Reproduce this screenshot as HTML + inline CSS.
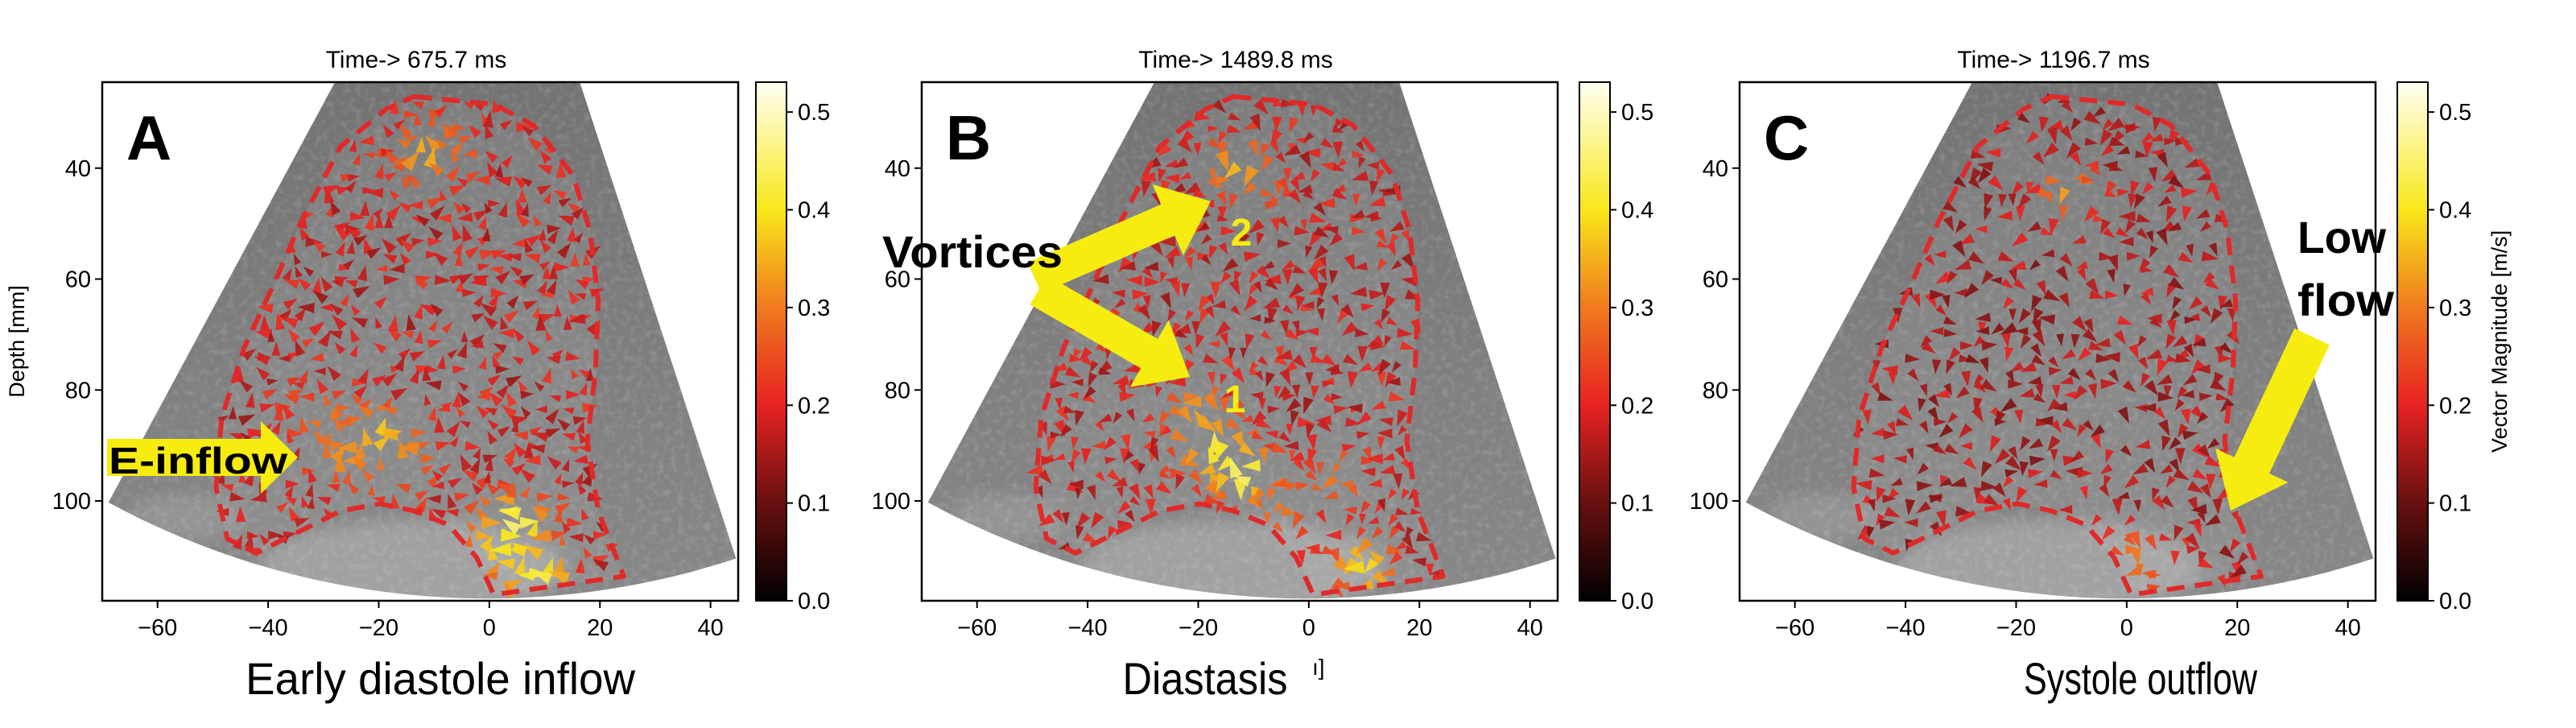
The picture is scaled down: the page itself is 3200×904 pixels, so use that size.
<!DOCTYPE html>
<html><head><meta charset="utf-8">
<style>
html,body{margin:0;padding:0;background:#fff;}
svg{display:block;}
text{font-family:"Liberation Sans",sans-serif;}
</style></head>
<body>
<svg id="fig" width="3200" height="904" viewBox="0 0 3200 904" xmlns="http://www.w3.org/2000/svg">
<defs>
<filter id="spk" x="0" y="0" width="100%" height="100%">
<feTurbulence type="fractalNoise" baseFrequency="0.12" numOctaves="2" seed="4"/>
<feColorMatrix type="matrix" values="0 0 0 0 1  0 0 0 0 1  0 0 0 0 1  1 0 0 0 -0.45"/>
</filter>
<filter id="blur8"><feGaussianBlur stdDeviation="10"/></filter>
<linearGradient id="cmap" x1="0" y1="1" x2="0" y2="0">
<stop offset="0" stop-color="#000000"/>
<stop offset="0.19" stop-color="#6a1010"/>
<stop offset="0.377" stop-color="#e82222"/>
<stop offset="0.566" stop-color="#f07a1e"/>
<stop offset="0.755" stop-color="#f8e81a"/>
<stop offset="1" stop-color="#fffff4"/>
</linearGradient>
<linearGradient id="fanGrad" x1="0" y1="0" x2="0" y2="1">
<stop offset="0" stop-color="#686868"/>
<stop offset="1" stop-color="#888888"/>
</linearGradient>
</defs>
</svg>
<script>
// ---- data arrays ----
const xTicks = [-60, -40, -20, 0, 20, 40];
const yTicks = [40, 60, 80, 100];
const cbTicks = [0.0, 0.1, 0.2, 0.3, 0.4, 0.5];
const cbTickLabels = ["0.0", "0.1", "0.2", "0.3", "0.4", "0.5"];
const panelTitles = ["Time-> 675.7 ms", "Time-> 1489.8 ms", "Time-> 1196.7 ms"];
const panelLetters = ["A", "B", "C"];
const panelCaptions = ["Early diastole inflow", "Diastasis", "Systole outflow"];
const baseMagnitude = [0.185, 0.18, 0.16];
// high-velocity regions: [x mm, depth mm, magnitude]
const clustersA = [[-12,38,0.36],[-7,36,0.28],[-20,88,0.38],[-26,92,0.33],[-15,92,0.32],[5,104,0.46],[2,108,0.4],[9,115,0.45],[-30,85,0.3]];
const clustersB = [[-13,40,0.36],[-8,44,0.26],[-18,90,0.42],[-12,95,0.46],[-20,84,0.34],[10,112,0.4],[-5,101,0.3],[5,96,0.3]];
const clustersC = [[-11,44,0.34],[2,110,0.3],[10,116,0.34]];
const clusters = [clustersA, clustersB, clustersC];
// LV contour in data coordinates [x, depth]
const contourX = [-13.6,0.9,8.0,15.1,18.2,19.7,19.2,17.7,19.7,24.3,0.8,-2.3,-7.4,-13.6,-19.7,-26.9,-42.2,-47.4,-49.4,-48.4,-44.3,-39.2,-34.0,-26.9,-18.7];
const contourY = [27.1,28.5,32.3,41.2,51.3,63.9,76.5,89.2,101.8,113.6,116.9,110.2,104.3,101.8,100.5,101.8,109.4,106.8,97.6,85,72.3,61.4,49.6,36.1,29.4];

// ---- layout ----
const NS = "http://www.w3.org/2000/svg";
const svg = document.getElementById("fig");
const panelLeft = [127, 1145, 2161];
const cbLeft = [939, 1962, 2978];
const TOP = 102, BOT = 746, W = 790;
const XMIN = -70, XMAX = 45, YMIN = 24.5, YMAX = 118, VMAX = 0.5306;

function mk(tag, attrs, parent) {
  const e = document.createElementNS(NS, tag);
  for (const k in attrs) e.setAttribute(k, attrs[k]);
  (parent || svg).appendChild(e);
  return e;
}
function hash(i, j, k) {
  let h = (i * 374761393 + j * 668265263 + k * 2147483647) | 0;
  h = (h ^ (h >>> 13)) * 1274126177 | 0;
  return ((h ^ (h >>> 16)) >>> 0) / 4294967296;
}
function cmap(v) {
  const st = [[0,[0,0,0]],[0.1,[106,16,16]],[0.2,[232,34,34]],[0.3,[240,122,30]],[0.4,[248,232,26]],[0.53,[255,255,244]]];
  v = Math.max(0, Math.min(0.53, v));
  for (let i = 1; i < st.length; i++) {
    if (v <= st[i][0]) {
      const t = (v - st[i-1][0]) / (st[i][0] - st[i-1][0]);
      const c = st[i-1][1].map((a, n) => Math.round(a + (st[i][1][n] - a) * t));
      return `rgb(${c[0]},${c[1]},${c[2]})`;
    }
  }
  return "#fffff4";
}
function inPoly(x, y) {
  let c = false;
  for (let i = 0, j = contourX.length - 1; i < contourX.length; j = i++) {
    if (((contourY[i] > y) !== (contourY[j] > y)) &&
        (x < (contourX[j] - contourX[i]) * (y - contourY[i]) / (contourY[j] - contourY[i]) + contourX[i])) c = !c;
  }
  return c;
}
function blockArrow(x1, y1, x2, y2, sw, hw, hl) {
  const dx = x2 - x1, dy = y2 - y1, L = Math.hypot(dx, dy);
  const ux = dx / L, uy = dy / L, px = -uy, py = ux;
  const bx = x2 - ux * hl, by = y2 - uy * hl;
  const pts = [[x1 + px*sw/2, y1 + py*sw/2],[bx + px*sw/2, by + py*sw/2],[bx + px*hw/2, by + py*hw/2],[x2, y2],
               [bx - px*hw/2, by - py*hw/2],[bx - px*sw/2, by - py*sw/2],[x1 - px*sw/2, y1 - py*sw/2]];
  return pts.map(p => p[0].toFixed(1) + "," + p[1].toFixed(1)).join(" ");
}

for (let p = 0; p < 3; p++) {
  const L = panelLeft[p];
  const X = x => L + (x - XMIN) / (XMAX - XMIN) * W;
  const Y = y => TOP + (y - YMIN) / (YMAX - YMIN) * (BOT - TOP);
  const g = mk("g", {});
  
  

  const clipId = "clip" + p;
  const cp = mk("clipPath", {id: clipId}, g);
  mk("rect", {x: L, y: TOP, width: W, height: BOT - TOP}, cp);

  // ultrasound fan
  const ax = -0.4, ay = -26.4, R = 144;
  const a1 = Math.atan2(126.7, -68.5), a2 = Math.atan2(137.3, 45.2);
  let pts = [[ax, ay]];
  for (let i = 0; i <= 40; i++) { const a = a1 + (a2 - a1) * i / 40; pts.push([ax + R * Math.cos(a), ay + R * Math.sin(a)]); }
  const fanPts = pts.map(q => X(q[0]).toFixed(1) + "," + Y(q[1]).toFixed(1)).join(" ");
  const fg = mk("g", {"clip-path": `url(#${clipId})`}, g);
  const fcp = mk("clipPath", {id: "fan" + p}, g);
  mk("polygon", {points: fanPts}, fcp);
  const fan = mk("polygon", {points: fanPts, fill: "url(#fanGrad)"}, fg);
  
  
  const inner = mk("g", {"clip-path": `url(#fan${p})`}, fg);
  mk("polygon", {points: contourX.map((x, i) => X(x).toFixed(1) + "," + Y(contourY[i]).toFixed(1)).join(" "), fill: "#ffffff", "fill-opacity": 0.07}, inner);
  mk("ellipse", {cx: X(-14), cy: Y(112), rx: 190, ry: 60, fill: "#ffffff", "fill-opacity": 0.22, filter: "url(#blur8)"}, inner);
  mk("ellipse", {cx: X(-55), cy: Y(103), rx: 70, ry: 30, fill: "#ffffff", "fill-opacity": 0.12, filter: "url(#blur8)"}, inner);
  mk("rect", {x: L, y: TOP, width: W, height: BOT - TOP, filter: "url(#spk)", opacity: 0.35}, inner);

  // velocity vectors
  const vg = mk("g", {}, fg);
  
  
  const cl = clusters[p];
  let ii = 0;
  for (let gx = -50; gx <= 26; gx += 2.3) {
    let jj = 0;
    for (let gy = 27; gy <= 118; gy += 2.3) {
      const h1 = hash(ii, jj, p + 1), h2 = hash(jj, ii, p + 7), h3 = hash(ii + 31, jj + 17, p);
      jj++;
      const x = gx + (h1 - 0.5) * 2.2, y = gy + (h2 - 0.5) * 2.2;
      if (!inPoly(x, y)) continue;
      if (h3 < (p === 2 ? 0.45 : 0.35)) continue;
      let m = baseMagnitude[p] + (h1 - 0.5) * 0.09;
      let best = 0;
      for (const c of cl) {
        const d = Math.hypot(x - c[0], y - c[1]);
        const w = Math.exp(-d * d / 30);
        if (w * c[2] > best) { best = w * c[2]; }
        m = Math.max(m, c[2] * w + m * (1 - w));
      }
      const ang = (p === 0 ? -Math.PI / 2 : Math.PI / 2) + (h2 - 0.5) * 3.5 + (best > 0.3 && p !== 0 ? Math.PI / 2 : 0);
      const sz = 5 + h3 * 6 + (m > 0.3 ? 3 : 0);
      const cx = X(x), cy = Y(y), ca = Math.cos(ang), sa = Math.sin(ang);
      const t = [[cx + ca * sz * 1.3, cy + sa * sz * 1.3], [cx - ca * sz * 0.6 - sa * sz * 0.6, cy - sa * sz * 0.6 + ca * sz * 0.6], [cx - ca * sz * 0.6 + sa * sz * 0.6, cy - sa * sz * 0.6 - ca * sz * 0.6]];
      const tri = mk("polygon", {points: t.map(q => q[0].toFixed(1) + "," + q[1].toFixed(1)).join(" "), fill: cmap(m), "fill-opacity": 0.92}, vg);
      
      
    }
    ii++;
  }

  // contour
  const cont = mk("polygon", {points: contourX.map((x, i) => X(x).toFixed(1) + "," + Y(contourY[i]).toFixed(1)).join(" "), fill: "none", stroke: "#e02a2a", "stroke-width": 6, "stroke-dasharray": "22 13", "stroke-linejoin": "round"}, fg);
  
  

  // frame
  const fr = mk("rect", {x: L, y: TOP, width: W, height: BOT - TOP, fill: "none", stroke: "#000", "stroke-width": 2.5}, g);
  
  

  // ticks
  for (let i = 0; i < xTicks.length; i++) {
    const tx = X(xTicks[i]);
    mk("line", {x1: tx, y1: BOT, x2: tx, y2: BOT + 9, stroke: "#000", "stroke-width": 2}, g);
    const t = mk("text", {x: tx, y: BOT + 43, "text-anchor": "middle", "font-size": 29}, g);
    t.textContent = (xTicks[i] < 0 ? "\u2212" + Math.abs(xTicks[i]) : String(xTicks[i]));
    
    
  }
  for (let i = 0; i < yTicks.length; i++) {
    const ty = Y(yTicks[i]);
    mk("line", {x1: L - 9, y1: ty, x2: L, y2: ty, stroke: "#000", "stroke-width": 2}, g);
    const t = mk("text", {x: L - 14, y: ty + 10, "text-anchor": "end", "font-size": 29}, g);
    t.textContent = String(yTicks[i]);
    
    
  }

  // title
  const ti = mk("text", {x: L + W / 2 - 5, y: 84, "text-anchor": "middle", "font-size": 30}, g);
  ti.textContent = panelTitles[p];
  
  
  // letter
  const le = mk("text", {x: L + 58, y: 198, "text-anchor": "middle", "font-size": 78, "font-weight": "bold"}, g);
  le.textContent = panelLetters[p];
  
  
  // caption
  const capX = [547, 1497, 2659][p];
  const capW = [484, 205, 290][p];
  const ca = mk("text", {x: capX, y: 862, "text-anchor": "middle", "font-size": 56, textLength: capW, lengthAdjust: "spacingAndGlyphs"}, g);
  ca.textContent = panelCaptions[p];
  
  

  // colorbar
  const cbx = cbLeft[p];
  const cb = mk("rect", {x: cbx, y: TOP, width: 38, height: BOT - TOP, fill: "url(#cmap)", stroke: "#000", "stroke-width": 2}, g);
  
  
  for (let i = 0; i < cbTicks.length; i++) {
    const ty = BOT - cbTicks[i] / VMAX * (BOT - TOP);
    mk("line", {x1: cbx + 38, y1: ty, x2: cbx + 46, y2: ty, stroke: "#000", "stroke-width": 2}, g);
    const t = mk("text", {x: cbx + 52, y: ty + 10, "font-size": 29}, g);
    t.textContent = cbTickLabels[i];
    
    
  }
}

// axis labels
let t = mk("text", {x: 0, y: 0, transform: "translate(30,424) rotate(-90)", "text-anchor": "middle", "font-size": 27});
t.textContent = "Depth [mm]";


t = mk("text", {x: 0, y: 0, transform: "translate(3114,424) rotate(-90)", "text-anchor": "middle", "font-size": 27});
t.textContent = "Vector Magnitude [m/s]";


t = mk("text", {x: 1630, y: 838, "font-size": 28});
t.textContent = "ı]";



// annotations
let a = mk("polygon", {points: blockArrow(133, 568, 370, 568, 46, 90, 46), fill: "#f7ec10"});


t = mk("text", {x: 135, y: 588, "font-size": 46, "font-weight": "bold", textLength: 222, lengthAdjust: "spacingAndGlyphs"});
t.textContent = "E-inflow";



a = mk("polygon", {points: blockArrow(1285, 345, 1504, 250, 42, 96, 58), fill: "#f7ec10"});


a = mk("polygon", {points: blockArrow(1290, 360, 1478, 468, 42, 96, 58), fill: "#f7ec10"});


t = mk("text", {x: 1096, y: 332, "font-size": 56, "font-weight": "bold", textLength: 224, lengthAdjust: "spacingAndGlyphs"});
t.textContent = "Vortices";


t = mk("text", {x: 1542, y: 305, "text-anchor": "middle", "font-size": 48, "font-weight": "bold", fill: "#f7ec10"});
t.textContent = "2";


t = mk("text", {x: 1534, y: 512, "text-anchor": "middle", "font-size": 48, "font-weight": "bold", fill: "#f7ec10"});
t.textContent = "1";



a = mk("polygon", {points: blockArrow(2872, 418, 2771, 634, 48, 100, 62), fill: "#f7ec10"});


t = mk("text", {x: 2854, y: 314, "font-size": 56, "font-weight": "bold", textLength: 110, lengthAdjust: "spacingAndGlyphs"});
t.textContent = "Low";


t = mk("text", {x: 2854, y: 392, "font-size": 56, "font-weight": "bold", textLength: 120, lengthAdjust: "spacingAndGlyphs"});
t.textContent = "flow";


</script>
</body></html>
